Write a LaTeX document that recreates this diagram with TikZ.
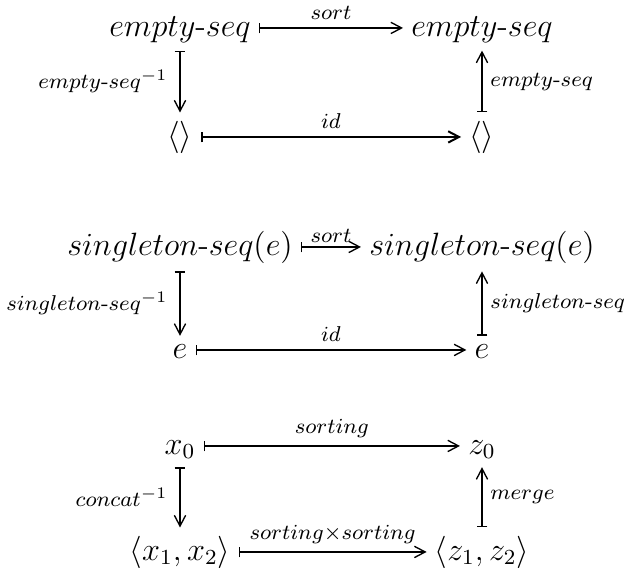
\documentclass[tikz,border=0pt]{standalone}
\usepackage{amsmath}
\usetikzlibrary{arrows.meta}
\begin{document}
\begin{tikzpicture}[x=0.372pt,y=-0.372pt,
  obj/.style={inner sep=2.9pt, anchor=base, font=\large},
  lab/.style={font=\footnotesize, inner sep=2.9pt},
  mt/.style={line width=0.5pt, {Bar[width=4pt]}-{Straight Barb[length=4pt,width=4.2pt]}},
]
\useasboundingbox (0,0) rectangle (626,572);
% diagram 1
\node[obj] (a1) at (180,36) {$empty\text{-}seq$};
\node[obj] (b1) at (482,36) {$empty\text{-}seq$};
\node[obj] (c1) at (180,145) {$\langle\rangle$};
\node[obj] (d1) at (482,145) {$\langle\rangle$};
\draw[mt] ([yshift=3pt]a1.base east) -- node[lab,above]{$sort$} ([yshift=3pt]b1.base west);
\draw[mt] (a1.south) -- node[lab,left=1.5pt]{$empty\text{-}seq^{-1}$} (c1.north);
\draw[mt,line width=0.75pt] ([yshift=3pt]c1.base east) -- node[lab,above]{$id$} ([yshift=3pt]d1.base west);
\draw[mt] (d1.north) -- node[lab,right]{$empty\text{-}seq$} (b1.south);
% diagram 2
\node[obj] (a2) at (180,255) {$singleton\text{-}seq(e)$};
\node[obj] (b2) at (482,255) {$singleton\text{-}seq(e)$};
\node[obj] (c2) at (180,358) {$e$};
\node[obj] (d2) at (482,358) {$e$};
\draw[mt] ([yshift=3pt]a2.base east) -- node[lab,above,inner sep=1.3pt]{$sort$} ([yshift=3pt]b2.base west);
\draw[mt] (a2.south) -- node[lab,left=1.5pt]{$singleton\text{-}seq^{-1}$} (c2.north);
\draw[mt] ([yshift=3pt]c2.base east) -- node[lab,above]{$id$} ([yshift=3pt]d2.base west);
\draw[mt] (d2.north) -- node[lab,right]{$singleton\text{-}seq$} (b2.south);
% diagram 3
\node[obj] (a3) at (180,454) {$x_0$};
\node[obj] (b3) at (482,454) {$z_0$};
\node[obj] (c3) at (180,560) {$\langle x_1, x_2\rangle$};
\node[obj] (d3) at (482,560) {$\langle z_1, z_2\rangle$};
\draw[mt] ([yshift=3pt]a3.base east) -- node[lab,above]{$sorting$} ([yshift=3pt]b3.base west);
\draw[mt] (a3.south) -- node[lab,left=1.5pt]{$concat^{-1}$} (c3.north);
\draw[mt] ([yshift=3pt]c3.base east) -- node[lab,above]{$sorting{\times}sorting$} ([yshift=3pt]d3.base west);
\draw[mt] (d3.north) -- node[lab,right]{$merge$} (b3.south);
\end{tikzpicture}
\end{document}
